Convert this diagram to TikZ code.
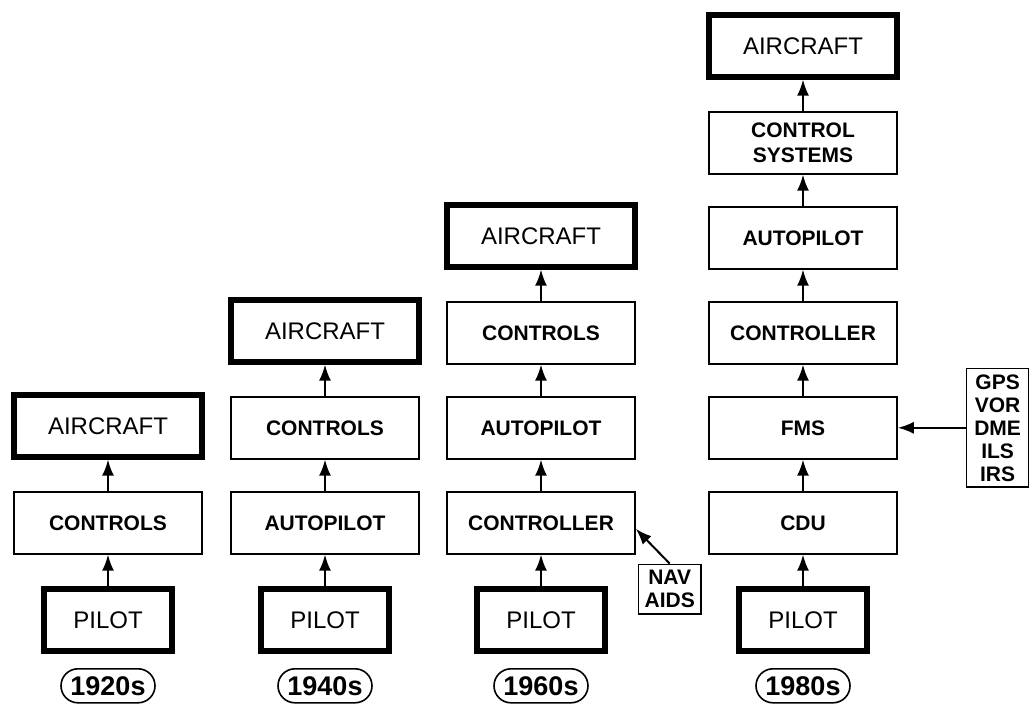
\documentclass[tikz,border=0pt]{standalone}
\usepackage{fontspec}
\setmainfont{Liberation Sans}
\usetikzlibrary{arrows.meta, positioning}

\begin{document}
\begin{tikzpicture}[>={Latex[length=8pt,width=6pt]}, node distance=15.7pt,
  box/.style={draw, line width=0.8pt, minimum width=94pt, minimum height=31pt, inner sep=2pt, align=center, font=\bfseries\fontsize{10.5}{12.5}\selectfont},
  heavy/.style={box, line width=3pt, minimum height=30.6pt, font=\fontsize{12}{14}\selectfont},
  pilot/.style={heavy, minimum width=64pt, minimum height=31pt},
  era/.style={draw, line width=0.8pt, rounded corners=8.5pt, minimum width=47pt, minimum height=17pt, inner sep=1pt, font=\bfseries\fontsize{13.5}{14}\selectfont},
  aid/.style={draw, line width=0.8pt, inner sep=3pt, align=center, font=\bfseries\fontsize{10.5}{11.5}\selectfont},
  link/.style={->, line width=1pt}]
\useasboundingbox (0,0) rectangle (515pt,354.5pt);

% 1920s
\node[pilot] (p1) at (54pt,44.5pt) {PILOT};
\node[box, above=of p1] (c1) {CONTROLS};
\node[heavy, above=of c1] (a1) {AIRCRAFT};
\node[era, below=7pt of p1] (y1) {1920s};
\draw[link] (p1) -- (c1);
\draw[link] (c1) -- (a1);

% 1940s
\node[pilot] (p2) at (162.5pt,44.5pt) {PILOT};
\node[box, above=of p2] (ap2) {AUTOPILOT};
\node[box, above=of ap2] (c2) {CONTROLS};
\node[heavy, above=of c2] (a2) {AIRCRAFT};
\node[era, below=7pt of p2] (y2) {1940s};
\draw[link] (p2) -- (ap2);
\draw[link] (ap2) -- (c2);
\draw[link] (c2) -- (a2);

% 1960s
\node[pilot] (p3) at (270.5pt,44.5pt) {PILOT};
\node[box, above=of p3] (k3) {CONTROLLER};
\node[box, above=of k3] (ap3) {AUTOPILOT};
\node[box, above=of ap3] (c3) {CONTROLS};
\node[heavy, above=of c3] (a3) {AIRCRAFT};
\node[era, below=7pt of p3] (y3) {1960s};
\node[aid, below right=4.5pt and 1pt of k3.south east] (nav) {NAV\\AIDS};
\draw[link] (p3) -- (k3);
\draw[link] (k3) -- (ap3);
\draw[link] (ap3) -- (c3);
\draw[link] (c3) -- (a3);
\draw[link] (nav.north) -- ([yshift=-3pt]k3.east);

% 1980s
\node[pilot] (p4) at (401.5pt,44.5pt) {PILOT};
\node[box, above=of p4] (cdu) {CDU};
\node[box, above=of cdu] (fms) {FMS};
\node[box, above=of fms] (k4) {CONTROLLER};
\node[box, above=of k4] (ap4) {AUTOPILOT};
\node[box, above=of ap4] (cs4) {CONTROL\\SYSTEMS};
\node[heavy, above=of cs4] (a4) {AIRCRAFT};
\node[era, below=7pt of p4] (y4) {1980s};
\node[aid, minimum width=31pt, right=34pt of fms] (gps) {GPS\\VOR\\DME\\ILS\\IRS};
\draw[link] (p4) -- (cdu);
\draw[link] (cdu) -- (fms);
\draw[link] (fms) -- (k4);
\draw[link] (k4) -- (ap4);
\draw[link] (ap4) -- (cs4);
\draw[link] (cs4) -- (a4);
\draw[link] (gps) -- (fms);
\end{tikzpicture}
\end{document}
